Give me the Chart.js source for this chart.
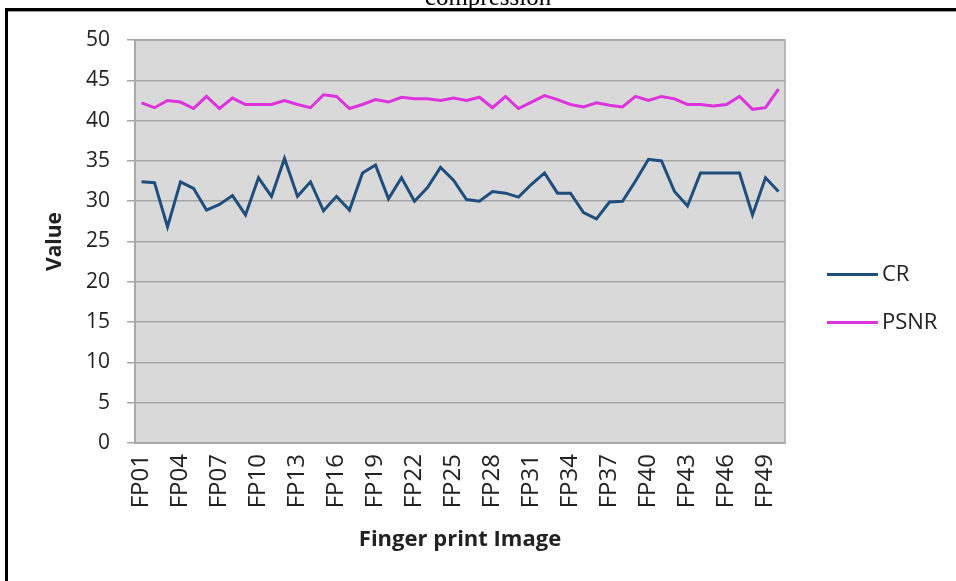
<!DOCTYPE html>
<html>
<head>
<meta charset="utf-8">
<script src="https://cdn.jsdelivr.net/npm/chart.js@4"></script>
<style>
    body { margin: 0; background: #fff; }
    #wrap { position: relative; width: 956px; height: 581px; overflow: hidden; }
    #chart { position: absolute; left: 0; top: 0; }
    .frame-top { position: absolute; left: 5px; top: 8px; width: 951px; height: 3px; background: #000; }
    .frame-shadow { position: absolute; left: 8px; top: 11px; width: 948px; height: 1px; background: #9a9a9a; }
    .frame-left { position: absolute; left: 5px; top: 8px; width: 3px; height: 573px; background: #000; }
    .cut-title { position: absolute; left: 0; width: 976px; top: -15px; text-align: center;
        font-family: "Liberation Serif", serif; font-size: 25px; line-height: 24px; }
    .legend { position: absolute; left: 827px; font-family: "Open Sans", sans-serif; font-size: 22px; color: #222; }
    .legend .item { position: absolute; left: 0; white-space: nowrap; }
    .legend .swatch { position: absolute; left: 0; width: 51px; height: 3px; }
    .legend .label { position: absolute; left: 55px; top: -16px; }
</style>
</head>
<body>
<div id="wrap">
    <canvas id="chart" width="956" height="581"></canvas>
    <div class="cut-title">compression</div>
    <div class="frame-top"></div>
    <div class="frame-shadow"></div>
    <div class="frame-left"></div>
    <div class="legend" id="legend"></div>
</div>
<script>
const images = [];
for (let i = 1; i <= 50; i++) images.push('FP' + String(i).padStart(2, '0'));

const crValues = [
    32.4, 32.3, 26.8, 32.4, 31.6, 28.9, 29.6, 30.7, 28.3, 32.9,
    30.6, 35.3, 30.6, 32.4, 28.8, 30.6, 28.9, 33.5, 34.5, 30.3,
    32.9, 30.0, 31.7, 34.2, 32.6, 30.2, 30.0, 31.2, 31.0, 30.5,
    32.1, 33.5, 31.0, 31.0, 28.6, 27.8, 29.9, 30.0, 32.5, 35.2,
    35.0, 31.2, 29.4, 33.5, 33.5, 33.5, 33.5, 28.3, 32.9, 31.2
];

const psnrValues = [
    42.2, 41.6, 42.5, 42.3, 41.5, 43.0, 41.5, 42.8, 42.0, 42.0,
    42.0, 42.5, 42.0, 41.6, 43.2, 43.0, 41.5, 42.0, 42.6, 42.3,
    42.9, 42.7, 42.7, 42.5, 42.8, 42.5, 42.9, 41.6, 43.0, 41.5,
    42.3, 43.1, 42.6, 42.0, 41.7, 42.2, 41.9, 41.7, 43.0, 42.5,
    43.0, 42.7, 42.0, 42.0, 41.8, 42.0, 43.0, 41.4, 41.6, 43.9
];

const yTicks = [0, 5, 10, 15, 20, 25, 30, 35, 40, 45, 50];

const seriesNames = ['CR', 'PSNR'];
const seriesColors = ['#1f4e7d', '#dc33dc'];

const font = "'Open Sans', sans-serif";

// grey plot area like the spreadsheet chart
const plotBackground = {
    id: 'plotBackground',
    beforeDraw(chart) {
        const { ctx, chartArea: a } = chart;
        ctx.save();
        ctx.fillStyle = '#d9d9d9';
        ctx.fillRect(a.left, a.top, a.right - a.left, a.bottom - a.top);
        ctx.strokeStyle = '#a6a6a6';
        ctx.lineWidth = 1.5;
        ctx.strokeRect(a.left, a.top, a.right - a.left, a.bottom - a.top);
        ctx.restore();
    }
};

const chart = new Chart(document.getElementById('chart').getContext('2d'), {
    type: 'line',
    data: {
        labels: images,
        datasets: [
            { label: seriesNames[0], data: crValues, borderColor: seriesColors[0], backgroundColor: seriesColors[0] },
            { label: seriesNames[1], data: psnrValues, borderColor: seriesColors[1], backgroundColor: seriesColors[1] }
        ]
    },
    options: {
        responsive: false,
        animation: false,
        layout: { padding: { left: 38, top: 40, right: 171, bottom: 24 } },
        elements: {
            point: { radius: 0 },
            line: { borderWidth: 3, tension: 0 }
        },
        plugins: {
            legend: { display: false },
            tooltip: { enabled: false }
        },
        scales: {
            x: {
                offset: true,
                afterFit: s => { s.height = 581 - 24 - 443; },
                grid: { display: false, drawTicks: false },
                border: { color: '#a6a6a6', width: 1.5 },
                ticks: {
                    autoSkip: false,
                    minRotation: 90,
                    maxRotation: 90,
                    padding: 11,
                    color: '#222',
                    font: { family: font, size: 24 },
                    callback: (v, i) => (i % 3 === 0 ? images[i] : '')
                },
                title: {
                    display: true,
                    text: 'Finger print Image',
                    color: '#222',
                    padding: { top: 4, bottom: 4 },
                    font: { family: font, size: 22, weight: 'bold' }
                }
            },
            y: {
                min: yTicks[0],
                max: yTicks[yTicks.length - 1],
                afterFit: s => { s.width = 135 - 38; },
                afterBuildTicks: s => { s.ticks = yTicks.map(v => ({ value: v })); },
                grid: { color: '#a6a6a6', lineWidth: 1.5, tickLength: 8 },
                border: { color: '#a6a6a6', width: 1.5 },
                ticks: {
                    padding: 17,
                    color: '#222',
                    font: { family: font, size: 21 }
                },
                title: {
                    display: true,
                    text: 'Value',
                    color: '#222',
                    padding: { top: 4, bottom: 4 },
                    font: { family: font, size: 21, weight: 'bold' }
                }
            }
        }
    },
    plugins: [plotBackground]
});

// legend on the right, built from the datasets
const legendEl = document.getElementById('legend');
const legendRows = [274, 322];
chart.data.datasets.forEach((ds, i) => {
    const item = document.createElement('div');
    item.className = 'item';
    item.style.top = (legendRows[i] - 1) + 'px';
    item.innerHTML = `<div class="swatch" style="background:${ds.borderColor}"></div><div class="label">${ds.label}</div>`;
    legendEl.appendChild(item);
});
</script>
</body>
</html>
